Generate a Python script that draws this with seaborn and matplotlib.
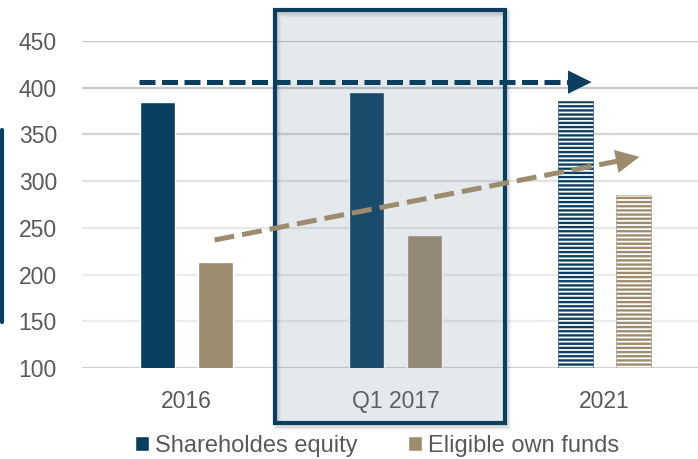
import matplotlib
matplotlib.use("Agg")
import matplotlib.pyplot as plt
import seaborn as sns
import pandas as pd
from matplotlib.patches import Rectangle
from matplotlib.lines import Line2D

# ---- data ----
categories = ["2016", "Q1 2017", "2021"]
series_names = ["Shareholdes equity", "Eligible own funds"]
equity = [385, 395, 386]
own_funds = [213, 242, 285]
y_ticks = [100, 150, 200, 250, 300, 350, 400, 450]
# arrows (category position, value)
equity_arrow = [(-0.225, 406), (1.938, 406)]
funds_arrow = [(0.134, 237), (2.167, 326)]

NAVY = "#0b3f5f"
TAN = "#9d8b6e"
GREY_TXT = "#595959"

df = pd.DataFrame({
    "category": categories * 2,
    "series": [series_names[0]] * 3 + [series_names[1]] * 3,
    "value": equity + own_funds,
})

sns.set_theme(style="white")
plt.rcParams["font.family"] = ["Liberation Sans", "DejaVu Sans"]
plt.rcParams["hatch.linewidth"] = 1.7

W, H = 698, 459
fig = plt.figure(figsize=(W / 100, H / 100), dpi=100)
ax = fig.add_axes([82 / W, (H - 368) / H, (W - 82) / W, 327 / H])
ax.set_facecolor("none")

sns.barplot(data=df, x="category", y="value", hue="series", order=categories,
            hue_order=series_names, palette=[NAVY, TAN], width=0.55, gap=0.39,
            saturation=1, ax=ax, zorder=2)

# hatched (forecast) bars for 2021
for cont, col in zip(ax.containers, [NAVY, TAN]):
    bar = cont[2]
    bar.set_facecolor("white")
    bar.set_edgecolor(col)
    bar.set_hatch("----")
    bar.set_linewidth(0.4)

ax.set_ylim(100, 450)
ax.set_xlim(-0.5, 2.447)
ax.set_yticks(y_ticks)
ax.set_xlabel("")
ax.set_ylabel("")
for s in ax.spines.values():
    s.set_visible(False)
ax.tick_params(axis="y", length=0, pad=18, labelsize=16.5, labelcolor=GREY_TXT)
ax.tick_params(axis="x", length=0, pad=16, labelsize=16.5, labelcolor=GREY_TXT)

grid_cols = ["#d0d0d0", "#ececec", "#ececec", "#e8e8e8", "#e2e2e2", "#d4d4d4", "#c8c8c8", "#c4c4c4"]
for yv, gc in zip(y_ticks, grid_cols):
    ax.axhline(yv, color=gc, lw=1.6, zorder=1)

# highlight box (semi-transparent overlay) around Q1 2017
bx0, by0, bw, bh = 275 / W, (H - 423) / H, 230 / W, 413 / H
for k, a in [(6, 0.04), (4, 0.05), (2, 0.06)]:
    shadow = Rectangle((bx0 + 2 / W, by0 - 3 / H), bw, bh, transform=fig.transFigure,
                       facecolor="none", edgecolor="#000000", alpha=a, lw=k,
                       clip_on=False, zorder=2.9)
    ax.add_patch(shadow)
overlay = Rectangle((bx0, by0), bw, bh, transform=fig.transFigure,
                    facecolor="#69859f", alpha=0.18, edgecolor="none",
                    clip_on=False, zorder=3)
ax.add_patch(overlay)
border = Rectangle((bx0, by0), bw, bh, transform=fig.transFigure,
                   facecolor="none", edgecolor=NAVY, lw=3,
                   clip_on=False, zorder=3.1)
ax.add_patch(border)

# dashed arrows
def dashed_arrow(p0, p1, color, dashes, lw):
    (x0, y0), (x1, y1) = p0, p1
    f = 0.955
    xb, yb = x0 + (x1 - x0) * f, y0 + (y1 - y0) * f
    ax.plot([x0, xb], [y0, yb], color=color, lw=lw, ls=(0, dashes),
            solid_capstyle="butt", dash_capstyle="butt", zorder=5, clip_on=False)
    ax.annotate("", xy=(x1, y1), xytext=(xb, yb),
                arrowprops=dict(arrowstyle="-|>,head_length=0.85,head_width=0.42",
                                color=color, lw=0, shrinkA=0, shrinkB=0,
                                mutation_scale=20),
                zorder=5, annotation_clip=False)

dashed_arrow(equity_arrow[0], equity_arrow[1], NAVY, (3.2, 1.3), 3.6)
dashed_arrow(funds_arrow[0], funds_arrow[1], TAN, (4.0, 1.6), 3.6)

# left accent line
fig.add_artist(Line2D([2 / W, 2 / W], [(H - 322) / H, (H - 130) / H],
                      color=NAVY, lw=3, transform=fig.transFigure))

# legend
handles, labels = ax.get_legend_handles_labels()
if ax.legend_:
    ax.legend_.remove()
leg = fig.legend(handles, labels, loc="center", bbox_to_anchor=(377 / W, (H - 446) / H),
                 ncol=2, frameon=False, fontsize=17, handlelength=0.62,
                 handleheight=0.62, handletextpad=0.25, columnspacing=2.1,
                 borderaxespad=0, borderpad=0)
for t in leg.get_texts():
    t.set_color(GREY_TXT)

fig.savefig("out.png", dpi=100)
